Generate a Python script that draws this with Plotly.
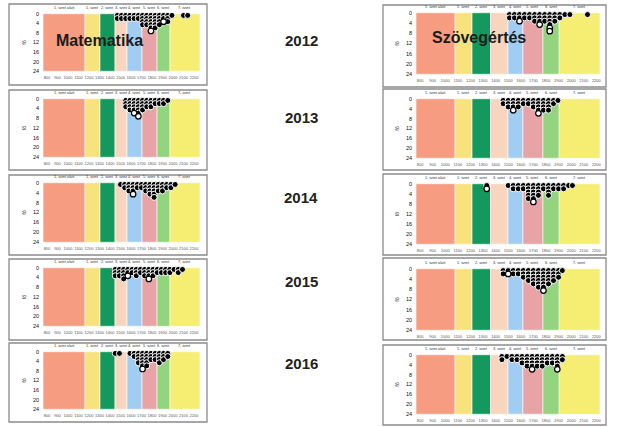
import plotly.graph_objects as go

W, H = 617, 427

years = ["2012", "2013", "2014", "2015", "2016"]
subjects = ["Matematika", "Szövegértés"]
level_labels = ["1. szint alatt", "1. szint", "2. szint", "3. szint",
                "4. szint", "5. szint", "6. szint", "7. szint"]
band_colors = ["#F69C80", "#F7E27E", "#14985C", "#F8D5BC",
               "#A2CDF2", "#E8A3A6", "#93D47E", "#F5EE72"]
math_edges = [762, 1162, 1305, 1448, 1562, 1705, 1848, 1971, 2257]
read_edges = [768, 1078, 1213, 1360, 1498, 1617, 1776, 1905, 2229]
x_ticks = list(range(800, 2201, 100))
y_ticks = [0, 4, 8, 12, 16, 20, 24]

# dot columns (score position) and number of stacked dots
math_2012_x = [1470, 1510, 1550, 1590, 1630, 1670, 1710, 1750, 1790, 1830, 1870, 1910, 1950, 1990, 2100, 2140]
math_2012_n = [2, 2, 2, 2, 2, 2, 4, 4, 6, 5, 4, 3, 3, 1, 1, 1]
math_2013_x = [1550, 1590, 1630, 1670, 1710, 1750, 1790, 1830, 1870, 1910, 1950]
math_2013_n = [3, 4, 5, 6, 4, 3, 3, 2, 2, 2, 1]
math_2014_x = [1500, 1540, 1580, 1620, 1660, 1700, 1740, 1780, 1820, 1860, 1900, 1940, 1980, 2020]
math_2014_n = [1, 2, 3, 4, 2, 2, 3, 4, 5, 3, 3, 2, 2, 1]
math_2015_x = [1450, 1490, 1530, 1570, 1610, 1650, 1690, 1730, 1770, 1810, 1850, 1890, 1930, 1970, 2010, 2050, 2090]
math_2015_n = [3, 3, 4, 3, 2, 3, 2, 3, 4, 3, 2, 2, 2, 2, 1, 2, 1]
math_2016_x = [1450, 1490, 1590, 1630, 1670, 1710, 1750, 1790, 1830, 1870, 1910, 1950]
math_2016_n = [1, 1, 1, 2, 4, 6, 5, 3, 3, 4, 3, 2]

read_2012_x = [1510, 1550, 1590, 1630, 1670, 1710, 1750, 1790, 1830, 1870, 1910, 1950, 1990, 2130]
read_2012_n = [2, 2, 3, 2, 2, 3, 4, 3, 6, 3, 2, 1, 1, 1]
read_2013_x = [1460, 1500, 1540, 1580, 1620, 1660, 1700, 1740, 1780, 1820, 1860, 1895]
read_2013_n = [2, 3, 4, 3, 2, 2, 3, 5, 4, 4, 2, 1]
read_2014_x = [1330, 1500, 1540, 1580, 1620, 1660, 1700, 1740, 1780, 1820, 1860, 1900, 1940, 1980, 2010]
read_2014_n = [2, 1, 2, 2, 2, 5, 6, 4, 2, 4, 2, 2, 2, 1, 1]
read_2015_x = [1460, 1500, 1540, 1580, 1620, 1660, 1700, 1740, 1780, 1820, 1860, 1900, 1930]
read_2015_n = [2, 2, 2, 2, 3, 4, 5, 6, 7, 5, 4, 3, 1]
read_2016_x = [1450, 1490, 1530, 1570, 1610, 1650, 1690, 1730, 1770, 1810, 1850, 1890, 1930]
read_2016_n = [2, 1, 2, 2, 3, 4, 5, 4, 4, 3, 3, 5, 2]

# hollow (white) dots: (column score, stack level)
math_white = [[(1790, 6), (1910, 3)], [(1630, 5), (1670, 6)], [(1620, 4)], [(1570, 3), (1770, 4)], [(1710, 6)]]
read_white = [[(1590, 3), (1750, 4), (1830, 5), (1830, 6)], [(1540, 4), (1740, 5)],
              [(1330, 2), (1700, 6)], [(1780, 7), (1500, 2)], [(1690, 5), (1890, 5)]]

math_x = [math_2012_x, math_2013_x, math_2014_x, math_2015_x, math_2016_x]
math_n = [math_2012_n, math_2013_n, math_2014_n, math_2015_n, math_2016_n]
read_x = [read_2012_x, read_2013_x, read_2014_x, read_2015_x, read_2016_x]
read_n = [read_2012_n, read_2013_n, read_2014_n, read_2015_n, read_2016_n]

# layout geometry (pixels)
left_plot_x = (43, 200)
right_plot_x = (416, 600)
left_plot_y = [(13, 72), (98, 158), (182, 243), (267, 327), (351, 410)]
right_plot_y = [(12, 75), (98, 159), (183, 245), (268, 331), (354, 415)]
left_frame_x = (9, 207)
right_frame_x = (383, 606)
left_frame_y = [(4, 85), (90, 170), (175, 255), (259, 340), (343, 422)]
right_frame_y = [(5, 87), (89, 170), (174, 255), (258, 340), (345, 425)]
year_y = [40, 117, 197, 281, 363]


def stack_y(k):
    return 1.3 * k - 0.6


fig = go.Figure()
shapes = []
annotations = []
layout_axes = {}

panels = []
for r in range(5):
    panels.append(("L", r, math_edges, math_x[r], math_n[r], math_white[r],
                   left_plot_x, left_plot_y[r], left_frame_x, left_frame_y[r], (762, 2257)))
for r in range(5):
    panels.append(("R", r, read_edges, read_x[r], read_n[r], read_white[r],
                   right_plot_x, right_plot_y[r], right_frame_x, right_frame_y[r], (768, 2229)))

for idx, (side, r, edges, xs, ns, whites, px, py, fx, fy, xr) in enumerate(panels):
    sfx = "" if idx == 0 else str(idx + 1)
    xa, ya = "x" + sfx, "y" + sfx
    # frame
    shapes.append(dict(type="rect", xref="paper", yref="paper",
                       x0=fx[0] / W, x1=fx[1] / W, y0=1 - fy[1] / H, y1=1 - fy[0] / H,
                       line=dict(color="#8a8a8a", width=1.3), fillcolor="white", layer="below"))
    # level bands
    centers = [(edges[i] + edges[i + 1]) / 2 for i in range(8)]
    widths = [edges[i + 1] - edges[i] for i in range(8)]
    fig.add_trace(go.Bar(x=centers, y=[24] * 8, width=widths, base=0,
                         marker=dict(color=band_colors, line=dict(color="white", width=0.6)),
                         xaxis=xa, yaxis=ya, showlegend=False, hoverinfo="skip"))
    for i in range(8):
        annotations.append(dict(x=centers[i], y=1.0, xref=xa, yref=ya + " domain",
                                xanchor="center", yanchor="bottom", yshift=1,
                                text=level_labels[i], showarrow=False,
                                font=dict(size=3.8, color="#333", family="Liberation Sans")))
    # dots
    dx, dy = [], []
    for x, n in zip(xs, ns):
        for k in range(1, n + 1):
            if (x, k) in whites:
                continue
            dx.append(x)
            dy.append(stack_y(k))
    fig.add_trace(go.Scatter(x=dx, y=dy, mode="markers", xaxis=xa, yaxis=ya,
                             marker=dict(size=6, color="black", line=dict(color="white", width=1)),
                             showlegend=False, hoverinfo="skip", cliponaxis=False))
    wx = [w[0] for w in whites]
    wy = [stack_y(w[1]) for w in whites]
    fig.add_trace(go.Scatter(x=wx, y=wy, mode="markers", xaxis=xa, yaxis=ya,
                             marker=dict(size=5.5, color="white", line=dict(color="black", width=1.2)),
                             showlegend=False, hoverinfo="skip", cliponaxis=False))
    layout_axes["xaxis" + sfx] = dict(domain=[px[0] / W, px[1] / W], range=list(xr),
                                      anchor=ya, tickvals=x_ticks, ticktext=[str(t) for t in x_ticks],
                                      tickangle=0,
                                      tickfont=dict(size=4, color="#555", family="Liberation Sans"),
                                      showgrid=False, zeroline=False, showline=False, ticks="",
                                      ticklabelstandoff=2)
    layout_axes["yaxis" + sfx] = dict(domain=[1 - py[1] / H, 1 - py[0] / H], range=[24.3, -0.3],
                                      anchor=xa, tickvals=y_ticks,
                                      tickfont=dict(size=5.5, color="#111", family="Liberation Sans"),
                                      showgrid=False, zeroline=False, showline=False, ticks="",
                                      ticklabelstandoff=3,
                                      title=dict(text="fő", font=dict(size=5, color="#333"), standoff=6))

# subject titles
annotations.append(dict(x=99 / W, y=1 - 40 / H, xref="paper", yref="paper", text="<b>Matematika</b>",
                        xanchor="center", yanchor="middle",
                        showarrow=False, font=dict(size=16, color="#1a1a1a", family="Liberation Sans")))
annotations.append(dict(x=479 / W, y=1 - 38 / H, xref="paper", yref="paper", text="<b>Szövegértés</b>",
                        xanchor="center", yanchor="middle",
                        showarrow=False, font=dict(size=16, color="#1a1a1a", family="Liberation Sans")))
for yr, yy in zip(years, year_y):
    annotations.append(dict(x=301 / W, y=1 - yy / H, xref="paper", yref="paper", text="<b>" + yr + "</b>",
                            xanchor="center", yanchor="middle",
                            showarrow=False, font=dict(size=15, color="#222", family="Liberation Sans")))

fig.update_layout(width=W, height=H, margin=dict(l=0, r=0, t=0, b=0, autoexpand=False),
                  paper_bgcolor="white", plot_bgcolor="rgba(0,0,0,0)",
                  barmode="overlay", shapes=shapes, annotations=annotations, **layout_axes)

fig.write_html("out.html", config={"displayModeBar": False},
               post_script="document.body.style.margin='0';document.body.style.overflow='hidden';")
